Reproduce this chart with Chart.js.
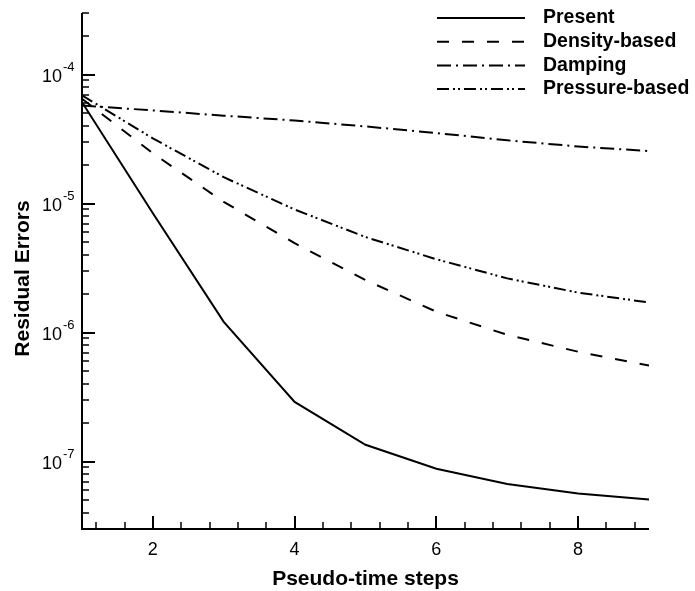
<!DOCTYPE html>
<html>
<head>
<meta charset="utf-8">
<script src="https://cdn.jsdelivr.net/npm/chart.js@4.4.1/dist/chart.umd.min.js"></script>
<style>
  html, body { margin: 0; padding: 0; background: #fff; }
</style>
</head>
<body>
<canvas id="chart" width="695" height="591"></canvas>
<script>
// pseudo-time steps
const steps = [1, 2, 3, 4, 5, 6, 7, 8, 9];

// residual errors
const present = [6.1e-5, 8.4e-6, 1.21e-6, 2.9e-7, 1.35e-7, 8.8e-8, 6.7e-8, 5.65e-8, 5.07e-8];
const densityBased = [6.5e-5, 2.45e-5, 1.03e-5, 4.93e-6, 2.55e-6, 1.45e-6, 9.6e-7, 7.1e-7, 5.55e-7];
const damping = [5.75e-5, 5.27e-5, 4.8e-5, 4.4e-5, 3.96e-5, 3.52e-5, 3.09e-5, 2.77e-5, 2.55e-5];
const pressureBased = [6.9e-5, 3.2e-5, 1.6e-5, 9.0e-6, 5.5e-6, 3.7e-6, 2.63e-6, 2.04e-6, 1.71e-6];

const seriesNames = ["Present", "Density-based", "Damping", "Pressure-based"];

// tick labels
const xTickLabels = [2, 4, 6, 8];
const yTickExponents = [-7, -6, -5, -4];

const FONT = '"Liberation Sans", Arial, Helvetica, sans-serif';

function toPoints(values) {
  return steps.map((s, i) => ({ x: s, y: values[i] }));
}

function makeDataset(label, values, dash) {
  return {
    label: label,
    data: toPoints(values),
    borderColor: "#000",
    borderWidth: 2,
    borderDash: dash,
    pointRadius: 0,
    tension: 0,
    fill: false,
  };
}

// axes, ticks and labels drawn by hand so the ticks point inward like the original
const axesPlugin = {
  id: "axes",
  afterDatasetsDraw(chart) {
    const { ctx, chartArea: a } = chart;
    const xs = chart.scales.x;
    const ys = chart.scales.y;
    ctx.save();
    ctx.strokeStyle = "#000";
    ctx.fillStyle = "#000";
    ctx.lineWidth = 2;
    ctx.setLineDash([]);
    ctx.beginPath();
    ctx.moveTo(a.left, a.top);
    ctx.lineTo(a.left, a.bottom);
    ctx.lineTo(a.right, a.bottom);
    ctx.stroke();

    // x ticks: minor every 0.4, major on the labels
    for (let k = 3; k <= 22; k++) {
      const v = +(k * 0.4).toFixed(1);
      const px = Math.round(xs.getPixelForValue(v));
      const major = xTickLabels.includes(v);
      ctx.lineWidth = major ? 2 : 1.5;
      ctx.beginPath();
      ctx.moveTo(px, a.bottom);
      ctx.lineTo(px, a.bottom - (major ? 13 : 7));
      ctx.stroke();
    }
    ctx.font = "18px " + FONT;
    ctx.textAlign = "center";
    ctx.textBaseline = "alphabetic";
    xTickLabels.forEach((v) => {
      ctx.fillText(String(v), xs.getPixelForValue(v), 555);
    });

    // y ticks on a log scale
    for (let e = -8; e <= -4; e++) {
      for (let m = 1; m <= 9; m++) {
        const v = m * Math.pow(10, e);
        if (v < ys.min * 0.999 || v > ys.max * 1.001) continue;
        const py = Math.round(ys.getPixelForValue(v));
        const major = m === 1;
        ctx.lineWidth = major ? 2 : 1.5;
        ctx.beginPath();
        ctx.moveTo(a.left, py);
        ctx.lineTo(a.left + (major ? 13 : 7), py);
        ctx.stroke();
      }
    }
    yTickExponents.forEach((e) => {
      const py = ys.getPixelForValue(Math.pow(10, e));
      ctx.font = "18px " + FONT;
      ctx.textAlign = "right";
      ctx.fillText("10", 62, py + 7);
      ctx.font = "13px " + FONT;
      ctx.textAlign = "left";
      ctx.fillText(String(e), 63, py - 4);
    });

    // axis titles
    ctx.font = "bold 21px " + FONT;
    ctx.textAlign = "center";
    ctx.fillText("Pseudo-time steps", (a.left + a.right) / 2, 585);
    ctx.save();
    ctx.translate(28.5, 278.5);
    ctx.rotate(-Math.PI / 2);
    ctx.fillText("Residual Errors", 0, 0);
    ctx.restore();
    ctx.restore();
  },
};

// legend in the upper right corner, using each dataset's own line style
const legendPlugin = {
  id: "cornerLegend",
  afterDraw(chart) {
    const { ctx } = chart;
    ctx.save();
    ctx.font = "bold 19.5px " + FONT;
    ctx.textAlign = "left";
    ctx.textBaseline = "middle";
    chart.data.datasets.forEach((ds, i) => {
      const y = 18 + i * 23.7;
      ctx.strokeStyle = ds.borderColor;
      ctx.lineWidth = ds.borderWidth;
      ctx.setLineDash(ds.borderDash || []);
      ctx.beginPath();
      ctx.moveTo(437, y);
      ctx.lineTo(525, y);
      ctx.stroke();
      ctx.setLineDash([]);
      ctx.fillStyle = "#000";
      ctx.fillText(ds.label, 543, y);
    });
    ctx.restore();
  },
};

new Chart(document.getElementById("chart").getContext("2d"), {
  type: "line",
  data: {
    datasets: [
      makeDataset(seriesNames[0], present, []),
      makeDataset(seriesNames[1], densityBased, [12, 13]),
      makeDataset(seriesNames[2], damping, [14, 5, 2, 5]),
      makeDataset(seriesNames[3], pressureBased, [12, 4, 2, 3, 2, 4]),
    ],
  },
  options: {
    responsive: false,
    animation: false,
    layout: { padding: { left: 82, right: 46, top: 13, bottom: 62 } },
    plugins: { legend: { display: false }, tooltip: { enabled: false } },
    scales: {
      x: { type: "linear", min: 1, max: 9, display: false },
      y: { type: "logarithmic", min: 3e-8, max: 3e-4, display: false },
    },
  },
  plugins: [axesPlugin, legendPlugin],
});
</script>
</body>
</html>
